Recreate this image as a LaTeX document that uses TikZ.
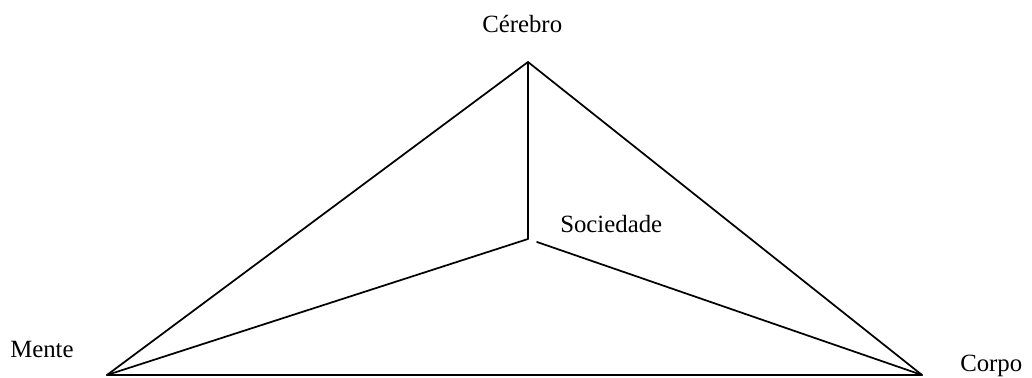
\documentclass[tikz,border=0pt]{standalone}
\usepackage{fontspec}
\setmainfont{Liberation Serif}
\begin{document}
\begin{tikzpicture}[x=0.75pt,y=-0.75pt,
  lbl/.style={inner sep=0pt,anchor=base west,font=\fontsize{18.6}{20}\selectfont},
  edge/.style={line width=1.3pt,line cap=round,line join=round}]
\useasboundingbox (0,0) rectangle (1032,378);
\coordinate (C) at (528,62);
\coordinate (S) at (528,239);
\coordinate (M) at (107,375);
\coordinate (P) at (922,375);
\coordinate (S2) at (537,242);
\node[lbl] (lc) at (482,33) {Cérebro};
\node[lbl] (ls) at (560,232) {Sociedade};
\node[lbl] (lm) at (10,357) {Mente};
\node[lbl] (lp) at (960,371) {Corpo};
\draw[edge] (M) -- (C) -- (P) -- cycle;
\draw[edge] (C) -- (S) -- (M);
\draw[edge] (S2) -- (P);
\end{tikzpicture}
\end{document}
